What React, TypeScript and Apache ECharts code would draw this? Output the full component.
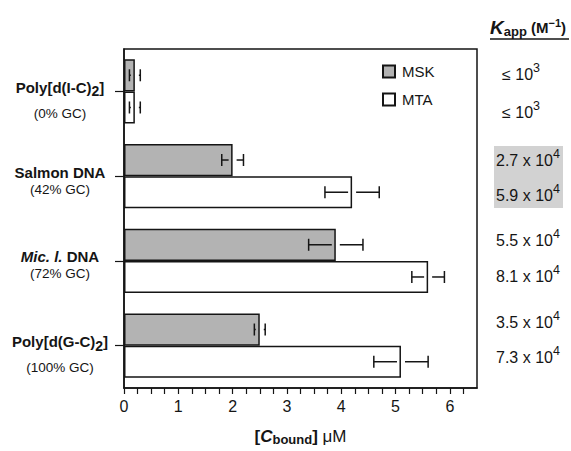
import React, { useEffect, useRef } from "react";
import * as echarts from "echarts";

const categories = ["Poly[d(I-C)2]", "Salmon DNA", "Mic. l. DNA", "Poly[d(G-C)2]"];
const gcLabels = ["(0% GC)", "(42% GC)", "(72% GC)", "(100% GC)"];
const seriesNames = ["MSK", "MTA"];
const mskValues = [0.2, 2.0, 3.9, 2.5];
const mskErrors = [0.1, 0.2, 0.5, 0.1];
const mtaValues = [0.2, 4.2, 5.6, 5.1];
const mtaErrors = [0.1, 0.5, 0.3, 0.5];
const kappMskBase = ["≤ 10", "2.7 x 10", "5.5 x 10", "3.5 x 10"];
const kappMskExp = ["3", "4", "4", "4"];
const kappMtaBase = ["≤ 10", "5.9 x 10", "8.1 x 10", "7.3 x 10"];
const kappMtaExp = ["3", "4", "4", "4"];
const xMin = 0;
const xMax = 6.5;

const FONT = "'Liberation Sans', Arial, Helvetica, sans-serif";
const INK = "#151515";

function categoryRich(name: string, gc: string) {
  let n = name;
  if (n.startsWith("Mic. l.")) {
    n = "{ni|Mic. l.}{n| " + n.slice(8) + "}";
  } else {
    n = "{n|" + n.replace(/\)2\]/, ")}{s|2}{n|]") + "}";
  }
  return n + "\n{g|" + gc + "}";
}

export default function App() {
  const ref = useRef<HTMLDivElement>(null);
  useEffect(() => {
    if (!ref.current) return;
    const chart = echarts.init(ref.current, null, { renderer: "svg" });
    const errData: any[] = [];
    [mskValues, mtaValues].forEach((vals, s) => {
      const errs = s === 0 ? mskErrors : mtaErrors;
      vals.forEach((v, i) => errData.push([v, i, errs[i], s]));
    });

    const kappY = [
      [74, 112],
      [160, 195],
      [240, 276],
      [322, 357],
    ];
    const graphics: any[] = [
      {
        type: "rect",
        shape: { x: 494, y: 146, width: 69, height: 62 },
        style: { fill: "#d2d2d2" },
        z: 0,
      },
      {
        type: "text",
        x: 490,
        y: 27,
        style: {
          text: "{k|K}{sub|app}{b| (M}{sup|−1}{b|)}",
          verticalAlign: "middle",
          rich: {
            k: { fontFamily: FONT, fontSize: 19, fontWeight: "bold", fontStyle: "italic", fill: INK },
            sub: { fontFamily: FONT, fontSize: 13, fontWeight: "bold", fill: INK, padding: [8, 0, 0, 0] },
            b: { fontFamily: FONT, fontSize: 15, fontWeight: "bold", fill: INK },
            sup: { fontFamily: FONT, fontSize: 11, fontWeight: "bold", fill: INK, padding: [0, 0, 9, 0] },
          },
        },
      },
      {
        type: "line",
        shape: { x1: 490, y1: 39, x2: 569, y2: 39 },
        style: { stroke: INK, lineWidth: 1.5 },
      },
    ];
    categories.forEach((_, i) => {
      [
        [kappMskBase[i], kappMskExp[i]],
        [kappMtaBase[i], kappMtaExp[i]],
      ].forEach((pair, s) => {
        graphics.push({
          type: "text",
          x: pair[0].startsWith("≤") ? 502 : 496,
          y: kappY[i][s],
          z: 2,
          style: {
            text: "{n|" + pair[0] + "}{sup|" + pair[1] + "}",
            verticalAlign: "middle",
            rich: {
              n: { fontFamily: FONT, fontSize: 16, fill: INK },
              sup: { fontFamily: FONT, fontSize: 12.5, fill: INK, padding: [0, 0, 12, 0] },
            },
          },
        });
      });
    });

    const option: any = {
      animation: false,
      backgroundColor: "#ffffff",
      grid: {
        left: 124,
        top: 49,
        right: 94,
        bottom: 59,
        show: true,
        borderColor: INK,
        borderWidth: 1.5,
        backgroundColor: "transparent",
      },
      legend: {
        orient: "vertical",
        left: 377,
        top: 59,
        itemWidth: 12,
        itemHeight: 12,
        itemGap: 13,
        icon: "rect",
        data: seriesNames,
        textStyle: { fontFamily: FONT, fontSize: 15, color: INK, padding: [0, 0, 0, 2] },
      },
      xAxis: {
        type: "value",
        min: xMin,
        max: xMax,
        interval: 0.25,
        splitLine: { show: false },
        axisLine: { show: true, lineStyle: { color: INK, width: 1.5 } },
        axisTick: { show: true, length: 6, lineStyle: { color: INK, width: 1.2 } },
        axisLabel: {
          margin: 10,
          fontFamily: FONT,
          fontSize: 16,
          color: INK,
          showMaxLabel: false,
          formatter: (v: number) => (Math.abs(v - Math.round(v)) < 1e-9 ? String(Math.round(v)) : ""),
        },
        name: "{b|[}{bi|C}{sub|bound}{b|]}{r| μM}",
        nameLocation: "middle",
        nameGap: 38,
        nameTextStyle: {
          rich: {
            b: { fontFamily: FONT, fontSize: 17, fontWeight: "bold", color: INK },
            bi: { fontFamily: FONT, fontSize: 17, fontWeight: "bold", fontStyle: "italic", color: INK },
            sub: { fontFamily: FONT, fontSize: 13, fontWeight: "bold", color: INK, padding: [7, 0, 0, 0] },
            r: { fontFamily: FONT, fontSize: 17, color: INK },
          },
        },
      },
      yAxis: {
        type: "category",
        inverse: true,
        data: categories,
        axisLine: { show: true, lineStyle: { color: INK, width: 1.5 } },
        axisTick: { show: true, alignWithLabel: true, length: 9, lineStyle: { color: INK, width: 1.2 } },
        splitLine: { show: false },
        axisLabel: {
          margin: 64,
          align: "center",
          padding: [9, 0, 0, 0],
          formatter: (_: string, idx: number) => categoryRich(categories[idx], gcLabels[idx]),
          rich: {
            n: { fontFamily: FONT, fontSize: 15, fontWeight: "bold", color: INK, lineHeight: 17 },
            ni: { fontFamily: FONT, fontSize: 15, fontWeight: "bold", fontStyle: "italic", color: INK, lineHeight: 17 },
            s: { fontFamily: FONT, fontSize: 14, fontWeight: "bold", color: INK, lineHeight: 35, padding: [8, 0, 0, 0] },
            g: { fontFamily: FONT, fontSize: 13.5, color: INK, lineHeight: 17 },
          },
        },
      },
      series: [
        {
          name: seriesNames[0],
          type: "bar",
          data: mskValues,
          barGap: "0%",
          barCategoryGap: "24%",
          itemStyle: { color: "#b3b3b3", borderColor: INK, borderWidth: 1.5 },
        },
        {
          name: seriesNames[1],
          type: "bar",
          data: mtaValues,
          barGap: "0%",
          barCategoryGap: "24%",
          itemStyle: { color: "#ffffff", borderColor: INK, borderWidth: 1.5 },
        },
        {
          type: "custom",
          data: errData,
          clip: false,
          z: 5,
          silent: true,
          renderItem: (params: any, api: any) => {
            const v = api.value(0);
            const c = api.value(1);
            const e = api.value(2);
            const s = api.value(3);
            const center = api.coord([v, c]);
            const band = api.size([0, 1])[1];
            const bw = (band * 0.76) / 2;
            const y = center[1] + (s === 0 ? -bw / 2 : bw / 2);
            const x0 = center[0];
            const xl = api.coord([v - e, c])[0];
            const xr = api.coord([v + e, c])[0];
            const gap = 4;
            const cap = 6;
            const st = { stroke: INK, lineWidth: 1.5 };
            const children: any[] = [
              { type: "line", shape: { x1: xl, y1: y - cap, x2: xl, y2: y + cap }, style: st },
              { type: "line", shape: { x1: xr, y1: y - cap, x2: xr, y2: y + cap }, style: st },
            ];
            if (x0 - gap > xl) children.push({ type: "line", shape: { x1: xl, y1: y, x2: x0 - gap, y2: y }, style: st });
            if (x0 + gap < xr) children.push({ type: "line", shape: { x1: x0 + gap, y1: y, x2: xr, y2: y }, style: st });
            return { type: "group", children };
          },
        },
      ],
      graphic: graphics,
    };
    chart.setOption(option);
    return () => chart.dispose();
  }, []);
  return <div ref={ref} style={{ width: 571, height: 451, position: "absolute", left: 0, top: 0 }} />;
}
